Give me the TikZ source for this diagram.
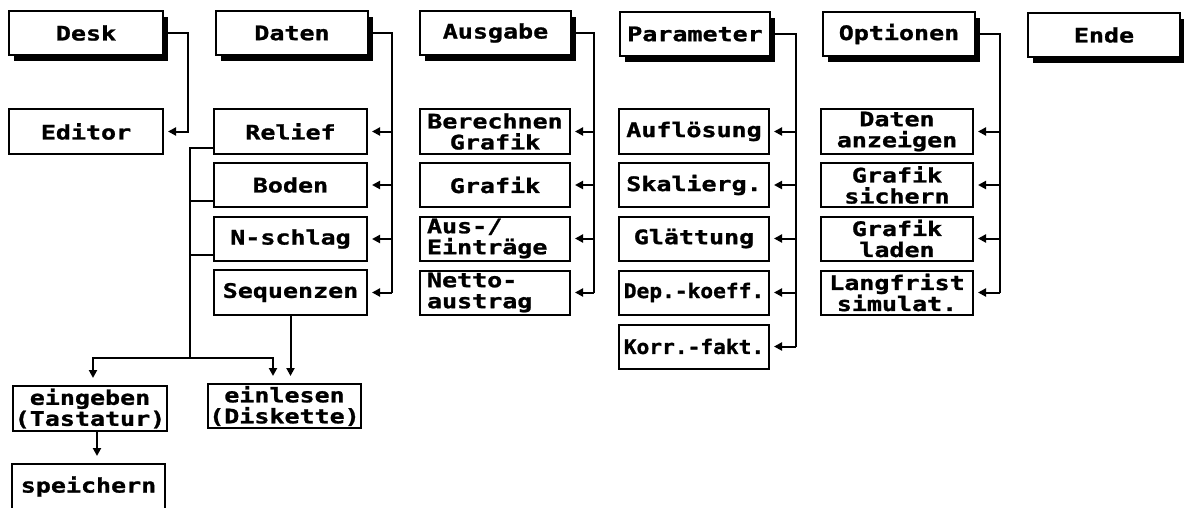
\documentclass[tikz,border=0pt]{standalone}
\usepackage{fontspec}
\newfontfamily\atari[FakeStretch=1.25,FakeBold=1.2,BoldFont={DejaVu Sans Mono Bold}]{DejaVu Sans Mono}
\newfontfamily\atarinarrow[FakeStretch=1.06,FakeBold=1.2,BoldFont={DejaVu Sans Mono Bold}]{DejaVu Sans Mono}
\usetikzlibrary{arrows.meta,shadows}
\begin{document}
\begin{tikzpicture}[x=1pt,y=-1pt,
  menubox/.style={draw, line width=2pt, fill=white, minimum width=152pt,
    minimum height=44pt, inner sep=0pt, align=center,
    font=\atari\bfseries\fontsize{20}{21}\selectfont},
  narrowtext/.style={font=\atarinarrow\bfseries\fontsize{20}{21}\selectfont},
  titlebox/.style={menubox, drop shadow={shadow xshift=5pt, shadow yshift=-6pt,
    fill=black, opacity=1}},
  leftbox/.style={menubox, text width=136pt, align=left},
  wire/.style={line width=2pt},
  feed/.style={wire, -{Triangle[length=8pt,width=8pt]}, shorten >=4pt},
  drop/.style={feed, shorten >=7pt}
]
\useasboundingbox (0,0) rectangle (1184,507);
\clip (0,0) rectangle (1184,507);
\fill[white] (0,0) rectangle (1184,507);

% menu bar
\node[titlebox, minimum width=154pt] (desk) at (86,33) {Desk};
\node[titlebox] (daten) at (292,33) {Daten};
\node[titlebox, minimum width=151pt] (ausgabe) at (495.5,33) {Ausgabe};
\node[titlebox, minimum width=150pt] (param) at (695,34) {Parameter};
\node[titlebox] (optionen) at (899,34) {Optionen};
\node[titlebox] (ende) at (1104,35) {Ende};

% Desk
\node[menubox, minimum width=154pt, minimum height=45pt] (editor) at (86,131.5) {Editor};

% Daten
\node[menubox, minimum width=153pt, minimum height=45pt] (relief) at (290.5,131.5) {Relief};
\node[menubox, minimum width=153pt] (boden) at (290.5,185) {Boden};
\node[menubox, minimum width=153pt] (nschlag) at (290.5,239) {N-schlag};
\node[menubox, minimum width=153pt, minimum height=45pt] (seq) at (290.5,292.5) {Sequenzen};

% Ausgabe
\node[menubox, minimum width=150pt, minimum height=45pt] (berech) at (495,131.5) {Berechnen\\Grafik};
\node[menubox, minimum width=150pt] (grafik) at (495,185) {Grafik};
\node[leftbox, minimum width=150pt] (auseintr) at (495,238.5) {Aus-/\\Einträge};
\node[leftbox, minimum width=150pt] (netto) at (495,292.5) {Netto-\\austrag};

% Parameter
\node[menubox, minimum width=150pt, minimum height=45pt] (aufl) at (694,131.5) {Auflösung};
\node[menubox, minimum width=150pt] (skal) at (694,185) {Skalierg.};
\node[menubox, minimum width=150pt] (glatt) at (694,238.5) {Glättung};
\node[menubox, narrowtext, minimum width=150pt] (dep) at (694,292.5) {Dep.-koeff.};
\node[menubox, narrowtext, minimum width=150pt] (korr) at (694,346.5) {Korr.-fakt.};

% Optionen
\node[menubox, minimum height=45pt] (anzeig) at (897,131.5) {Daten\\anzeigen};
\node[menubox] (sichern) at (897,185) {Grafik\\sichern};
\node[menubox] (laden) at (897,238.5) {Grafik\\laden};
\node[menubox] (langfr) at (897,292.5) {Langfrist\\simulat.};

% input / storage
\node[menubox, minimum width=154pt, minimum height=45pt] (eingeben) at (90,408.5) {eingeben\\(Tastatur)};
\node[menubox, minimum width=153pt] (einlesen) at (284.5,406) {einlesen\\(Diskette)};
\node[menubox, minimum width=153pt, minimum height=45pt] (speichern) at (88.5,486.5) {speichern};

% vertical buses
\coordinate (deskbus) at (188,0);
\coordinate (datbus) at (392,0);
\coordinate (ausbus) at (594,0);
\coordinate (parbus) at (796,0);
\coordinate (optbus) at (1000,0);
\coordinate (split) at (190,358);

\draw[feed] (desk.east) -| (deskbus |- editor.east) -- (editor.east);

\draw[wire] (daten.east) -| (datbus |- seq.east);
\foreach \c in {relief,boden,nschlag,seq}
  \draw[feed] (datbus |- \c.east) -- (\c.east);

\draw[wire] (ausgabe.east) -| (ausbus |- netto.east);
\foreach \c in {berech,grafik,auseintr,netto}
  \draw[feed] (ausbus |- \c.east) -- (\c.east);

\draw[wire] (param.east) -| (parbus |- korr.east);
\foreach \c in {aufl,skal,glatt,dep,korr}
  \draw[feed] (parbus |- \c.east) -- (\c.east);

\draw[wire] (optionen.east) -| (optbus |- langfr.east);
\foreach \c in {anzeig,sichern,laden,langfr}
  \draw[feed] (optbus |- \c.east) -- (\c.east);

% data sources
\draw[wire] ([yshift=7pt]relief.south west) -| (split);
\draw[wire] ([yshift=7pt]boden.south west) -- ([yshift=7pt]boden.south west -| split);
\draw[wire] ([yshift=7pt]nschlag.south west) -- ([yshift=7pt]nschlag.south west -| split);
\draw[drop] (split) -| ([xshift=3pt]eingeben.north);
\draw[drop] (split) -| ([xshift=-11.5pt]einlesen.north);
\draw[drop] (seq.south) -- (seq.south |- einlesen.north);
\draw[drop] ([xshift=7pt]eingeben.south) -- ([xshift=7pt]eingeben.south |- speichern.north);
\end{tikzpicture}
\end{document}
